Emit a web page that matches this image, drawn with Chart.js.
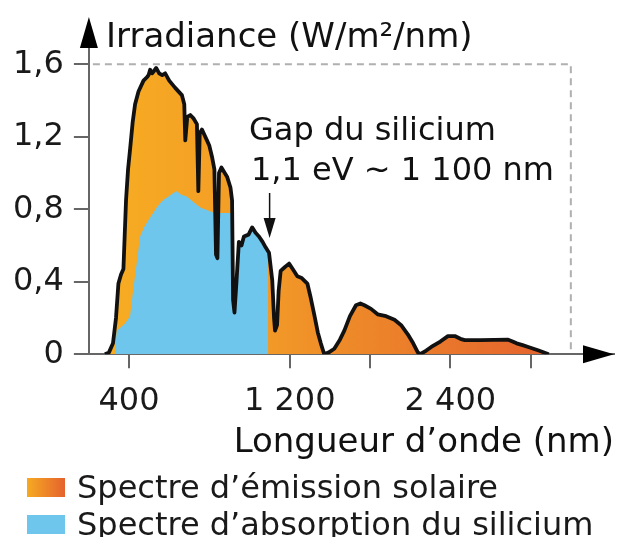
<!DOCTYPE html>
<html>
<head>
<meta charset="utf-8">
<script src="https://cdn.jsdelivr.net/npm/chart.js@4.4.1/dist/chart.umd.min.js"></script>
<style>
  html, body { margin: 0; padding: 0; background: #fff; }
  #wrap { position: relative; width: 618px; height: 537px; overflow: hidden; }
  #chart { position: absolute; left: 0; top: 0; }
  .leg { position: absolute; left: 27px; font-family: "DejaVu Sans", sans-serif; font-size: 32px; color: #1a1a1a; line-height: 1; white-space: nowrap; }
  .sw { position: absolute; left: 0; width: 38px; height: 19px; }
  .lt { position: absolute; left: 50px; }
</style>
</head>
<body>
<div id="wrap">
  <canvas id="chart" width="618" height="537"></canvas>
  <div class="leg" style="top:478px"><div class="sw" style="top:0;background:linear-gradient(90deg,#F6AA22,#E5622D)"></div><div class="lt" style="top:-7px">Spectre d’émission solaire</div></div>
  <div class="leg" style="top:515px"><div class="sw" style="top:0;background:#6EC6EC"></div><div class="lt" style="top:-7px">Spectre d’absorption du silicium</div></div>
</div>
<script>
// ---- data ----
const wavelengths = [280,300,320,335,347,360,372,385,395,405,418,430,447,472,490,497,505,515,522,535,550,565,580,600,630,663,675,680,690,705,722,738,745,752,763,788,800,813,825,833,840,848,860,888,905,913,918,925,935,947,960,972,995,1013,1030,1047,1065,1080,1097,1113,1122,1127,1137,1145,1155,1175,1197,1215,1238,1260,1288,1305,1322,1340,1355,1372,1395,1422,1450,1472,1500,1530,1552,1572,1605,1638,1680,1722,1755,1788,1815,1838,1850,1880,1905,1950,1988,2022,2050,2072,2150,2288,2310,2330,2360,2388,2440,2490];
const emission =    [0,0.01,0.06,0.2,0.39,0.44,0.47,0.85,1.02,1.13,1.28,1.38,1.45,1.51,1.53,1.54,1.57,1.55,1.56,1.58,1.55,1.54,1.55,1.51,1.47,1.43,1.38,1.18,1.31,1.32,1.30,1.27,0.90,1.22,1.24,1.18,1.15,1.09,1.02,0.55,0.53,1.00,1.03,0.98,0.92,0.85,0.30,0.23,0.40,0.62,0.60,0.65,0.66,0.70,0.67,0.65,0.62,0.59,0.56,0.41,0.20,0.13,0.16,0.35,0.46,0.48,0.50,0.47,0.43,0.42,0.39,0.31,0.22,0.12,0.06,0.0,0.01,0.03,0.08,0.13,0.21,0.27,0.28,0.27,0.25,0.22,0.21,0.19,0.16,0.11,0.06,0.01,0.0,0.02,0.04,0.07,0.10,0.10,0.085,0.078,0.078,0.08,0.07,0.06,0.05,0.04,0.02,0];
const absWavelengths = [330,338,360,380,405,420,438,455,475,497,520,538,560,580,597,620,638,660,688,720,755,800,825,850,888,913,918,925,935,947,960,972,995,1013,1030,1047,1065,1080,1092,1093];
const absorption =     [0,0.13,0.15,0.17,0.21,0.35,0.50,0.65,0.70,0.74,0.78,0.81,0.84,0.86,0.87,0.89,0.90,0.88,0.87,0.84,0.81,0.79,0.78,0.78,0.78,0.78,0.30,0.23,0.40,0.62,0.60,0.65,0.66,0.70,0.67,0.65,0.62,0.59,0.57,0];
const xTickValues = [400,1200,1600,2000,2400];
const xTickLabels = ["400","1 200","","2 400",""];
const yTickValues = [0,0.4,0.8,1.2,1.6];
const yTickLabels = ["0","0,4","0,8","1,2","1,6"];
const frameX = 2600;       // right dashed border (nm)
const frameY = 1.6;        // top dashed border
const gapWavelength = 1100;
const seriesNames = ["Spectre d’émission solaire", "Spectre d’absorption du silicium"];
const yTitle = "Irradiance (W/m²/nm)";
const xTitle = "Longueur d’onde (nm)";
const gapLines = ["Gap du silicium", "1,1 eV ~ 1 100 nm"];

const FONT = '"DejaVu Sans", sans-serif';
const emissionPts = wavelengths.map((w, i) => ({x: w, y: emission[i]}));
const absPts = absWavelengths.map((w, i) => ({x: w, y: absorption[i]}));

function emissionFill(ctx) {
  const chart = ctx.chart;
  if (!chart.chartArea) return '#F0902A';
  const xs = chart.scales.x;
  const g = chart.ctx.createLinearGradient(xs.getPixelForValue(300), 0, xs.getPixelForValue(2500), 0);
  g.addColorStop(0, '#F7AC22');
  g.addColorStop(0.35, '#F29A27');
  g.addColorStop(1, '#E4622E');
  return g;
}

const decor = {
  id: 'decor',
  beforeDatasetsDraw(chart) {
    const c = chart.ctx, xs = chart.scales.x, ys = chart.scales.y;
    c.save();
    c.strokeStyle = '#B0B0B0';
    c.lineWidth = 2;
    c.setLineDash([7, 5]);
    c.beginPath();
    c.moveTo(xs.left + 4, ys.getPixelForValue(frameY));
    c.lineTo(xs.getPixelForValue(frameX), ys.getPixelForValue(frameY));
    c.lineTo(xs.getPixelForValue(frameX), ys.getPixelForValue(0));
    c.stroke();
    c.restore();
  },
  afterDraw(chart) {
    const c = chart.ctx, xs = chart.scales.x, ys = chart.scales.y;
    const ax = xs.left, ay = ys.bottom;
    c.save();
    c.fillStyle = '#000';
    // y arrow
    c.beginPath();
    c.moveTo(ax, 17); c.lineTo(ax - 9, ys.top); c.lineTo(ax + 9, ys.top); c.closePath(); c.fill();
    // x arrow
    c.beginPath();
    c.moveTo(614, ay); c.lineTo(583, ay - 9); c.lineTo(583, ay + 9); c.closePath(); c.fill();
    // title
    c.font = '34px ' + FONT;
    c.fillStyle = '#111';
    c.textBaseline = 'alphabetic';
    c.textAlign = 'left';
    c.fillText(yTitle, 106, 47);
    // gap annotation
    c.font = '32px ' + FONT;
    c.fillText(gapLines[0], 249, 140);
    c.fillText(gapLines[1], 251, 180);
    const gx = xs.getPixelForValue(gapWavelength);
    c.strokeStyle = '#111';
    c.lineWidth = 1.5;
    c.beginPath(); c.moveTo(gx, 193); c.lineTo(gx, 222); c.stroke();
    c.beginPath(); c.moveTo(gx, 238); c.lineTo(gx - 6, 218); c.lineTo(gx + 6, 218); c.closePath(); c.fill();
    c.restore();
  }
};

new Chart(document.getElementById('chart'), {
  type: 'line',
  data: {
    datasets: [
      { label: 'outline', data: emissionPts, borderColor: '#111', borderWidth: 3.8, fill: false, pointRadius: 0, tension: 0, borderJoinStyle: 'round', order: 0 },
      { label: seriesNames[1], data: absPts, borderColor: 'rgba(0,0,0,0)', borderWidth: 0, backgroundColor: '#6EC6EC', fill: 'origin', pointRadius: 0, tension: 0, order: 1 },
      { label: seriesNames[0], data: emissionPts, borderColor: 'rgba(0,0,0,0)', borderWidth: 0, backgroundColor: emissionFill, fill: 'origin', pointRadius: 0, tension: 0, order: 2 }
    ]
  },
  options: {
    responsive: false,
    animation: false,
    events: [],
    layout: { padding: { top: 48, left: 3, right: 4, bottom: 82 } },
    plugins: { legend: { display: false }, tooltip: { enabled: false }, title: { display: false } },
    scales: {
      x: {
        type: 'linear', min: 200, max: 2815,
        afterBuildTicks: s => { s.ticks = xTickValues.map(v => ({value: v})); },
        ticks: { autoSkip: false, maxRotation: 0, padding: 17, color: '#1a1a1a', font: { family: FONT, size: 32, lineHeight: 1.0 },
                 callback: v => xTickLabels[xTickValues.indexOf(v)] },
        grid: { drawOnChartArea: false, drawTicks: true, tickLength: 14, color: '#666', lineWidth: 2 },
        border: { display: true, color: '#666', width: 2 },
        title: { display: true, text: xTitle, align: 'end', color: '#111', font: { family: FONT, size: 34, lineHeight: 0.7 }, padding: { top: -3, bottom: 0 } }
      },
      y: {
        min: 0, max: 1.69,
        afterBuildTicks: s => { s.ticks = yTickValues.map(v => ({value: v})); },
        ticks: { padding: 10, color: '#1a1a1a', font: { family: FONT, size: 32 },
                 callback: v => yTickLabels[yTickValues.indexOf(v)] },
        grid: { drawOnChartArea: false, drawTicks: true, tickLength: 15, color: '#666', lineWidth: 2 },
        border: { display: true, color: '#666', width: 2 }
      }
    }
  },
  plugins: [decor]
});
</script>
</body>
</html>
